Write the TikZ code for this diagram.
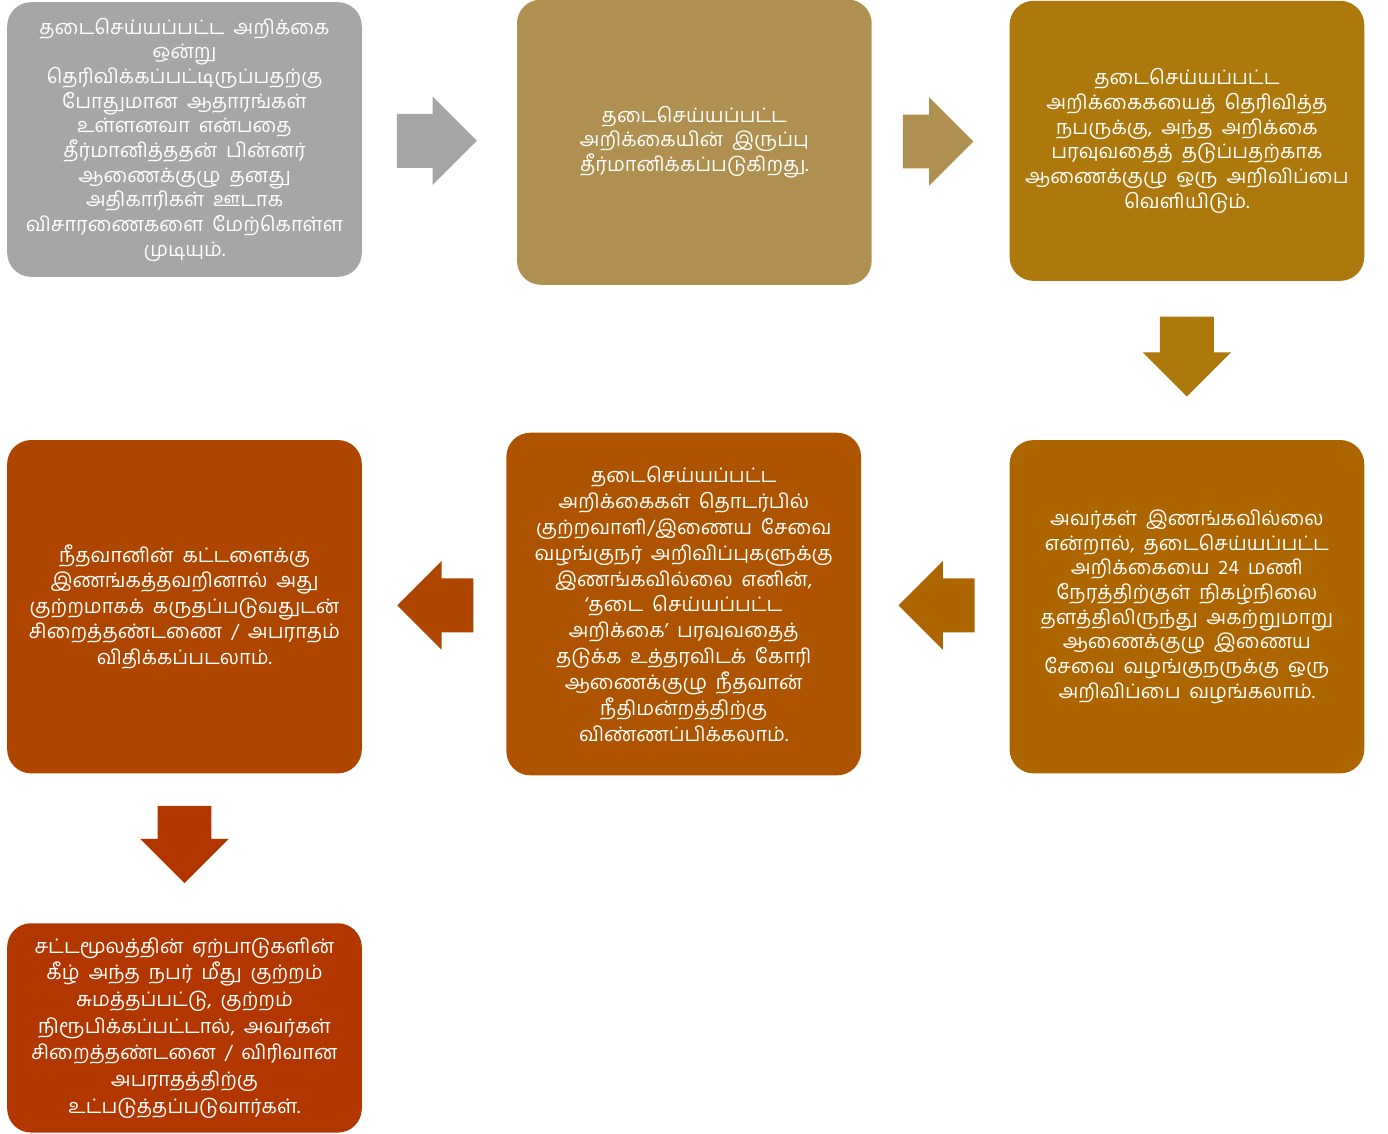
\documentclass[tikz,border=0pt]{standalone}
\usepackage{fontspec}
\newfontfamily\tamilfont[Script=Tamil,WordSpace=1.8]{Hind Madurai}
\usepackage{tikz}
\usetikzlibrary{shapes,arrows,positioning,calc}
\definecolor{grey}{RGB}{166,166,166}
\definecolor{tanbox}{RGB}{176,144,80}
\definecolor{ochre}{RGB}{173,120,12}
\definecolor{amber}{RGB}{173,101,0}
\definecolor{rust}{RGB}{174,84,0}
\definecolor{brick}{RGB}{175,70,0}
\definecolor{blood}{RGB}{178,54,0}
\tikzstyle{card} = [rectangle, rounded corners=18pt, draw=none, text=white, align=center, font=\tamilfont\fontsize{15}{18.5}\selectfont, minimum width=266pt, inner sep=4pt]
\tikzstyle{barrow} = [single arrow, draw=none, minimum height=60pt, inner xsep=0pt, inner ysep=20pt, single arrow head extend=13pt, single arrow head indent=0pt]

\begin{document}
\begin{tikzpicture}[x=0.75pt, y=-0.75pt]
\useasboundingbox (0,0) rectangle (1388,1133);

% steps =============================

% top row
\node[card, fill=grey, minimum height=206pt] (b1) at (184.5,139.5) {தடைசெய்யப்பட்ட அறிக்கை\\ஒன்று\\தெரிவிக்கப்பட்டிருப்பதற்கு\\போதுமான ஆதாரங்கள்\\உள்ளனவா என்பதை\\தீர்மானித்ததன் பின்னர்\\ஆணைக்குழு தனது\\அதிகாரிகள் ஊடாக\\விசாரணைகளை மேற்கொள்ள\\முடியும்.};
\node[card, fill=tanbox, minimum height=214pt, right=116pt of b1, yshift=-2pt] (b2) {தடைசெய்யப்பட்ட\\அறிக்கையின் இருப்பு\\தீர்மானிக்கப்படுகிறது.};
\node[card, fill=ochre, minimum height=210pt, right=103pt of b2, yshift=1pt] (b3) {தடைசெய்யப்பட்ட\\அறிக்கைகயைத் தெரிவித்த\\நபருக்கு, அந்த அறிக்கை\\பரவுவதைத் தடுப்பதற்காக\\ஆணைக்குழு ஒரு அறிவிப்பை\\வெளியிடும்.};

% middle row
\node[card, fill=amber, minimum height=250pt, below=119pt of b3] (b4) {அவர்கள் இணங்கவில்லை\\என்றால், தடைசெய்யப்பட்ட\\அறிக்கையை 24 மணி\\நேரத்திற்குள் நிகழ்நிலை\\தளத்திலிருந்து அகற்றுமாறு\\ஆணைக்குழு இணைய\\சேவை வழங்குநருக்கு ஒரு\\அறிவிப்பை வழங்கலாம்.};
\node[card, fill=rust, minimum height=257pt, left=111pt of b4, yshift=2pt, font=\tamilfont\fontsize{15}{19.4}\selectfont] (b5) {தடைசெய்யப்பட்ட\\அறிக்கைகள் தொடர்பில்\\குற்றவாளி/இணைய சேவை\\வழங்குநர் அறிவிப்புகளுக்கு\\இணங்கவில்லை எனின்,\\‘தடை செய்யப்பட்ட\\அறிக்கை’ பரவுவதைத்\\தடுக்க உத்தரவிடக் கோரி\\ஆணைக்குழு நீதவான்\\நீதிமன்றத்திற்கு\\விண்ணப்பிக்கலாம்.};
\node[card, fill=brick, minimum height=250pt, left=108pt of b5, yshift=-2pt, font=\tamilfont\fontsize{15}{19.2}\selectfont] (b6) {நீதவானின் கட்டளைக்கு\\இணங்கத்தவறினால் அது\\குற்றமாகக் கருதப்படுவதுடன்\\சிறைத்தண்டணை / அபராதம்\\விதிக்கப்படலாம்.};

% last step
\node[card, fill=blood, minimum height=157pt, below=112pt of b6, font=\tamilfont\fontsize{15}{20}\selectfont] (b7) {சட்டமூலத்தின் ஏற்பாடுகளின்\\கீழ் அந்த நபர் மீது குற்றம்\\சுமத்தப்பட்டு, குற்றம்\\நிரூபிக்கப்பட்டால், அவர்கள்\\சிறைத்தண்டனை / விரிவான\\அபராதத்திற்கு\\உட்படுத்தப்படுவார்கள்.};

% arrows
\node[barrow, fill=grey, xshift=-12pt] (a12) at ($(b1.east)!0.5!(b2.west)$) {};
\node[barrow, fill=tanbox, minimum height=53pt, xshift=-12pt] (a23) at ($(b2.east)!0.5!(b3.west)$) {};
\node[barrow, fill=ochre, yshift=13pt, rotate=270] (a34) at ($(b3.south)!0.5!(b4.north)$) {};
\node[barrow, fill=amber, minimum height=57pt, xshift=11pt, rotate=180] (a45) at ($(b4.west)!0.5!(b5.east)$) {};
\node[barrow, fill=brick, minimum height=57pt, xshift=11pt, rotate=180] (a56) at ($(b5.west)!0.5!(b6.east)$) {};
\node[barrow, fill=blood, minimum height=58pt, yshift=13pt, rotate=270] (a67) at ($(b6.south)!0.5!(b7.north)$) {};

\end{tikzpicture}
\end{document}
